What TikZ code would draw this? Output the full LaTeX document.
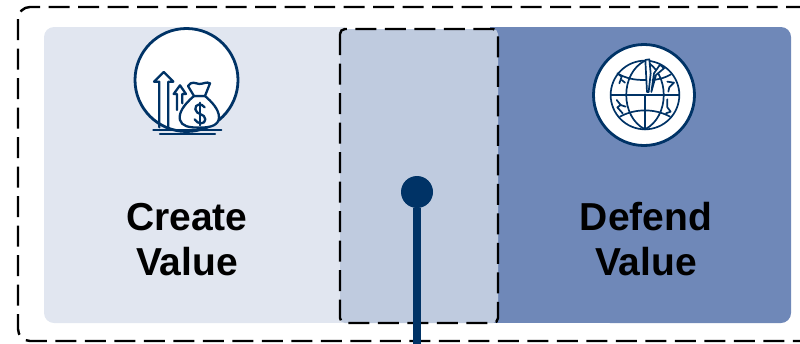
\documentclass[tikz,border=0pt]{standalone}
\usepackage{fontspec}
\setmainfont{Liberation Sans}
\definecolor{navy}{HTML}{003366}
\definecolor{paleblue}{HTML}{E1E6F0}
\definecolor{midblue}{HTML}{BFCBDF}
\definecolor{deepblue}{HTML}{6F88B8}
\tikzset{
  dashbox/.style={draw=black,line width=2.4pt,dash pattern=on 21pt off 8.5pt},
  badge/.style={circle,draw=navy,fill=white,line width=2.8pt,inner sep=0pt},
  label/.style={font=\bfseries\fontsize{39}{45}\selectfont,align=center,text=black},
  icon/.style={draw=navy,line width=2.3pt,line join=round,line cap=round},
  fine/.style={draw=navy,line width=1.7pt,line join=round,line cap=round},
}
\begin{document}
\begin{tikzpicture}[x=1pt,y=-1pt]
\useasboundingbox (0,0) rectangle (800,343);
\clip (0,0) rectangle (800,343);
% panels
\fill[paleblue,rounded corners=10pt] (44,27) rectangle (300,323);
\fill[paleblue] (200,27) rectangle (345,323);
\fill[deepblue,rounded corners=10pt] (600,27) rectangle (791,323);
\fill[deepblue] (490,27) rectangle (700,323);
\draw[dashbox,rounded corners=12pt] (18,7) rectangle (830,341);
\draw[dashbox,fill=midblue,rounded corners=5pt] (340,29) rectangle (498,323);
% badges
\node[badge,minimum size=103pt] (valueicon) at (186.5,80) {};
\node[badge,minimum size=101pt] (globeicon) at (644,95) {};
% money icon, coordinates of a 3x crop
\begin{scope}[shift={(120,20)},x=0.3333pt,y=-0.3333pt]
  \draw[icon] (118,322) -- (118,185) -- (102,185) -- (131,156) -- (160,185) -- (145,185) -- (145,322);
  \draw[icon] (171,270) -- (171,222) -- (161,222) -- (180,196) -- (198,222) -- (187,222) -- (187,250);
  \draw[icon,fill=white] (222,228) .. controls (190,255) and (175,280) .. (180,300)
     .. controls (185,318) and (205,323) .. (238,323)
     .. controls (275,323) and (296,315) .. (297,292)
     .. controls (297,268) and (275,245) .. (255,228) -- cycle;
  \draw[icon,fill=white] (222,228) -- (204,198) .. controls (215,182) and (225,190) .. (238,192)
     .. controls (250,192) and (260,184) .. (270,190) -- (255,228) -- cycle;
  \draw[icon] (254,262) .. controls (245,248) and (224,252) .. (226,268)
     .. controls (228,285) and (256,280) .. (256,298)
     .. controls (256,314) and (232,314) .. (224,298);
  \draw[icon] (240,248) -- (240,316);
  \draw[icon] (100,330) -- (304,330);
  \draw[icon] (120,343) -- (285,343);
\end{scope}
% globe icon, coordinates of a 3x crop
\begin{scope}[shift={(580,30)},x=0.3333pt,y=-0.3333pt]
  \draw[fine] (195,195) circle[radius=103];
  \draw[fine] (195,92) .. controls (120,130) and (120,260) .. (195,298);
  \draw[fine] (195,92) .. controls (270,130) and (270,260) .. (195,298);
  \draw[fine] (92,195) -- (298,195);
  \draw[fine] (195,195) -- (195,298);
  \draw[fine] (117,133) .. controls (150,150) and (175,150) .. (200,150);
  \draw[fine] (217,150) .. controls (240,148) and (258,142) .. (273,133);
  \draw[fine] (120,260) .. controls (165,235) and (225,235) .. (270,260);
  \draw[fine,fill=white] (196,90) -- (208,88) -- (212,130) -- (206,186) -- (201,186) -- cycle;
  \draw[fine,fill=white] (214,186) -- (222,130) -- (240,104) -- (252,115) -- (228,135) -- cycle;
  \draw[fine] (112,130) -- (125,140) -- (118,160);
  \draw[fine] (125,150) -- (135,158);
  \draw[fine] (262,155) -- (282,158) -- (268,172) -- (265,185);
  \draw[fine] (110,210) -- (122,225) -- (112,232) -- (128,250);
  \draw[fine] (122,225) -- (137,230);
  \draw[fine] (262,208) -- (262,232) -- (272,245) -- (258,250);
\end{scope}
% labels
\node[label] (create) at (187,240) {Create\\Value};
\node[label] (defend) at (646,239) {Defend\\Value};
% pin
\coordinate (pinfoot) at (417,345);
\node[circle,fill=navy,minimum size=32pt,inner sep=0pt] (pinhead) at (417,192) {};
\draw[navy,line width=8pt] (pinhead) -- (pinfoot);
\end{tikzpicture}
\end{document}
